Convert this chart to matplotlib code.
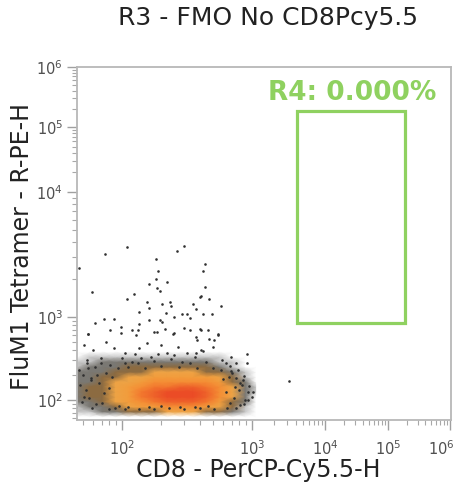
import matplotlib
matplotlib.use('Agg')
import matplotlib.pyplot as plt
import matplotlib.transforms as mtransforms
import numpy as np
from matplotlib.colors import LinearSegmentedColormap
from matplotlib.patches import Rectangle
from matplotlib.ticker import FixedLocator, NullFormatter

plt.rcParams['font.family'] = ['DejaVu Sans']

TITLE = 'R3 - FMO No CD8Pcy5.5'
X_LABEL = 'CD8 - PerCP-Cy5.5-H'
Y_LABEL = 'FluM1 Tetramer - R-PE-H'
GATE_LABEL = 'R4: 0.000%'

# gate R4 (data units)
gate_x = [4130, 1.88e5]
gate_y = [847, 1.85e5]

# sparse events, log10 of (CD8, tetramer)
events_x = [2.04, 1.87, 2.48, 2.42, 2.26, 1.67, 2.28, 2.26, 2.21, 2.35, 2.27, 2.29,
            1.77, 2.04, 2.09, 2.19, 2.21, 2.31, 2.37, 2.38, 2.55, 2.61, 2.62, 2.13,
            2.34, 2.46, 2.50, 2.52, 2.40, 2.29, 2.31, 2.21, 1.94, 1.86, 1.79, 2.13,
            1.99, 1.91, 2.08, 2.12, 2.33, 2.40, 2.48, 2.52, 2.61, 1.74, 2.27,
            2.64, 2.64, 2.60, 2.67, 2.57, 2.76, 2.62, 2.69, 2.60, 2.66, 2.74,
            3.51, 2.96, 2.96, 2.88, 2.84, 2.74, 2.67, 2.71, 2.58, 2.70, 2.62, 2.57,
            2.80, 2.83, 2.77, 3.00, 2.97, 2.93, 2.92, 2.95, 2.91, 2.88, 2.89, 2.85, 2.82,
            1.74, 1.99, 2.11, 2.25, 2.39, 2.57, 1.71, 1.88, 1.78, 1.94, 2.02, 2.13,
            2.19, 2.30, 2.35, 2.43, 2.50, 2.22, 1.73, 1.84, 1.67, 1.74, 1.68, 1.71,
            1.65, 1.77, 1.85, 1.76, 1.81, 1.91, 2.02, 2.08, 2.15, 2.46, 2.56, 2.61,
            1.90, 2.02, 2.13, 2.25, 2.36, 2.48, 2.60, 2.71, 2.81, 1.98, 2.21, 2.56,
            2.98, 3.01, 2.97, 2.94, 2.91, 2.88, 2.94, 2.84,
            1.70, 1.72, 1.75, 1.79, 1.82, 1.86, 1.88, 1.69, 1.80, 1.92, 1.84, 1.90,
            1.76, 1.97, 1.73, 2.00, 2.05, 2.12, 2.18, 2.25, 2.30, 2.38, 2.44, 2.52,
            2.58, 2.65, 2.70, 2.76, 2.10, 2.40, 2.28, 2.80, 2.86, 2.83, 2.90, 2.78,
            2.87, 2.05, 2.30, 2.45, 2.66, 1.95]
events_y = [3.56, 3.50, 3.57, 3.53, 3.46, 3.39, 3.37, 3.30, 3.26, 3.28, 3.23, 3.21,
            3.20, 3.14, 3.18, 3.12, 3.07, 3.10, 3.12, 3.09, 3.10, 3.17, 3.37, 3.04,
            3.03, 3.02, 3.02, 2.99, 3.00, 2.96, 2.94, 2.96, 2.98, 2.98, 2.93, 2.92,
            2.88, 2.84, 2.84, 2.84, 2.86, 2.81, 2.87, 2.84, 2.84, 2.80, 2.82,
            3.42, 3.24, 3.16, 3.14, 3.06, 3.09, 3.02, 3.02, 2.86, 2.84, 2.80,
            2.23, 2.55, 2.45, 2.45, 2.52, 2.78, 2.73, 2.72, 2.72, 2.64, 2.59, 2.57,
            2.45, 2.41, 2.48, 2.04, 2.10, 2.24, 2.18, 2.00, 1.94, 1.90, 2.36, 2.33, 2.28,
            2.80, 2.81, 2.78, 2.82, 2.80, 2.76, 2.66, 2.70, 2.60, 2.63, 2.57, 2.63,
            2.69, 2.66, 2.57, 2.64, 2.57, 2.52, 2.48, 2.51, 2.36, 2.39, 2.18, 2.04,
            1.92, 1.90, 1.96, 2.24, 2.30, 2.42, 2.45, 2.46, 2.51, 2.46, 2.52, 2.60,
            1.89, 1.89, 1.89, 1.89, 1.90, 1.89, 1.90, 1.89, 1.90, 1.93, 1.92, 1.92,
            2.17, 2.10, 2.00, 1.95, 2.20, 2.27, 2.29, 2.35,
            2.30, 2.12, 2.02, 2.40, 2.20, 2.08, 2.33, 1.98, 1.95, 2.28, 2.45, 2.15,
            2.26, 2.38, 2.44, 2.50, 2.40, 2.44, 2.38, 2.47, 2.41, 2.49, 2.40, 2.44,
            2.38, 2.46, 2.39, 2.36, 2.55, 2.54, 2.56, 2.10, 2.02, 1.96, 2.12, 2.25,
            2.16, 1.91, 1.93, 1.91, 1.93, 1.90]

# dense core: estimated event density on a log10 grid
core_x = [1.65, 1.75, 1.85, 1.95, 2.05, 2.15, 2.25, 2.35, 2.45, 2.55, 2.65, 2.75, 2.85, 2.95, 3.05]
core_y = [1.80, 1.86, 1.92, 1.98, 2.04, 2.10, 2.16, 2.22, 2.28, 2.34, 2.40, 2.46, 2.52, 2.58]
core_density = [
    [0, 0, 0, 0, 0, 0, 0, 0, 0, 0, 0, 0, 0, 0, 0],
    [1, 1, 2, 2, 3, 3, 3, 4, 4, 4, 3, 3, 2, 1, 0],
    [1, 2, 2, 3, 4, 5, 5, 6, 6, 6, 5, 4, 3, 1, 0],
    [2, 2, 3, 4, 5, 6, 7, 8, 8, 8, 7, 5, 3, 2, 0],
    [2, 3, 3, 4, 5, 7, 8, 9, 9, 9, 8, 6, 4, 2, 0],
    [2, 3, 3, 4, 5, 7, 8, 9, 9, 9, 8, 6, 4, 2, 1],
    [2, 3, 3, 4, 5, 6, 7, 7, 8, 8, 7, 6, 4, 2, 1],
    [2, 2, 3, 4, 4, 5, 6, 6, 6, 6, 6, 5, 3, 2, 0],
    [2, 2, 3, 3, 4, 4, 5, 5, 5, 5, 5, 4, 3, 1, 0],
    [2, 2, 2, 3, 3, 3, 4, 4, 4, 4, 3, 3, 2, 1, 0],
    [1, 2, 2, 2, 3, 3, 3, 3, 3, 3, 3, 2, 1, 0, 0],
    [1, 1, 2, 2, 2, 2, 2, 2, 2, 2, 2, 1, 1, 0, 0],
    [0, 1, 1, 1, 1, 1, 1, 1, 1, 1, 1, 1, 0, 0, 0],
    [0, 0, 0, 0, 0, 0, 0, 0, 0, 0, 0, 0, 0, 0, 0],
]

# display scale of the cytometer: decade -> screen position
x_decades = [1, 2, 3, 4, 5, 6, 7]
x_pos = [-8, 122, 252, 325, 388, 450, 512]
y_decades = [1, 2, 3, 4, 5, 6, 7]
y_pos = [13, 96, 179, 304, 369, 429, 489]


def make_scale(decades, pos):
    def forward(v):
        v = np.asarray(v, dtype=float)
        return np.interp(np.log10(np.maximum(v, 1e-3)), decades, pos)

    def inverse(p):
        return 10 ** np.interp(np.asarray(p, dtype=float), pos, decades)
    return forward, inverse


fig = plt.figure(figsize=(4.56, 4.96), dpi=100)
ax = fig.add_axes([77 / 456, 76 / 496, 374 / 456, 353 / 496])
ax.set_xscale('function', functions=make_scale(x_decades, x_pos))
ax.set_yscale('function', functions=make_scale(y_decades, y_pos))

# opaque colours blended on white, so the gouraud triangles leave no seams
cmap = LinearSegmentedColormap.from_list('density', [
    (0.0, (1.0, 1.0, 1.0)),
    (0.1, (0.78, 0.78, 0.78)),
    (0.2, (0.48, 0.47, 0.45)),
    (0.3, (0.55, 0.42, 0.25)),
    (0.4, (0.93, 0.64, 0.27)),
    (0.55, (0.96, 0.60, 0.22)),
    (0.7, (0.95, 0.47, 0.18)),
    (0.9, (0.92, 0.30, 0.15)),
    (1.0, (0.90, 0.24, 0.14)),
])
gx, gy = np.meshgrid(10 ** np.array(core_x), 10 ** np.array(core_y))
ax.pcolormesh(gx, gy, np.array(core_density, dtype=float), shading='gouraud',
              cmap=cmap, vmin=0, vmax=10, antialiased=False, zorder=1)
ax.scatter(10 ** np.array(events_x), 10 ** np.array(events_y), s=3.5,
           color='#303030', linewidths=0, zorder=2)

green = '#8fd160'
ax.add_patch(Rectangle((gate_x[0], gate_y[0]), gate_x[1] - gate_x[0], gate_y[1] - gate_y[0],
                       fill=False, edgecolor=green, linewidth=2.3, zorder=3))
ax.text(10 ** 4.43, 10 ** 5.57, GATE_LABEL, color=green, fontsize=19, fontweight='bold',
        ha='center', va='center', zorder=4)

ax.set_xlim(10 ** 1.654, 10 ** 6.016)
ax.set_ylim(10 ** 1.759, 10 ** 6)

major = [1e2, 1e3, 1e4, 1e5, 1e6]
minor = [k * 10 ** d for d in range(1, 6) for k in range(2, 10)]
for axis in (ax.xaxis, ax.yaxis):
    axis.set_major_locator(FixedLocator(major))
    axis.set_minor_locator(FixedLocator(minor))
    axis.set_minor_formatter(NullFormatter())
ax.set_xticklabels([f'$10^{{{d}}}$' for d in range(2, 7)])
ax.set_yticklabels([f'$10^{{{d}}}$' for d in range(2, 7)])

for s in ax.spines.values():
    s.set_color('#b8b8b8')
    s.set_linewidth(1.3)
ax.tick_params(which='major', length=7, width=1, color='#a0a0a0', labelsize=10.5,
               labelcolor='#505050', pad=3)
ax.tick_params(axis='x', which='major', pad=7)
ax.tick_params(which='minor', length=3.5, width=0.8, color='#a8a8a8')

# last x label sits against the figure edge, as in the original
last = ax.get_xticklabels()[-1]
last.set_horizontalalignment('right')
last.set_transform(last.get_transform() + mtransforms.ScaledTranslation(5 / 100, 0, fig.dpi_scale_trans))

fig.text(268 / 456, 1 - 18 / 496, TITLE, fontsize=18, color='#222222', ha='center', va='center')
fig.text(258 / 456, 1 - 470 / 496, X_LABEL, fontsize=17, color='#222222', ha='center', va='center')
fig.text(22 / 456, 1 - 246 / 496, Y_LABEL, fontsize=17, color='#222222', ha='center',
         va='center', rotation=90)

fig.savefig('out.png', dpi=100)
